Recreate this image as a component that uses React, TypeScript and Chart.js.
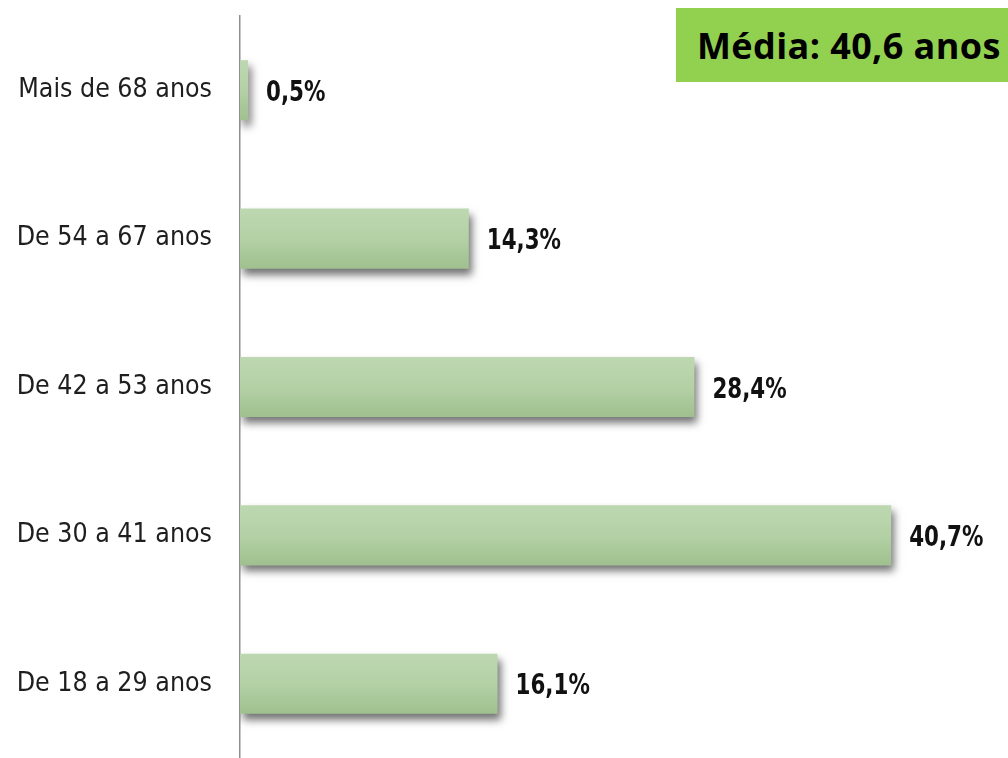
import React, { useEffect, useRef } from "react";
import { Chart, registerables } from "chart.js";

Chart.register(...registerables);

const categories = [
  "Mais de 68 anos",
  "De 54 a 67 anos",
  "De 42 a 53 anos",
  "De 30 a 41 anos",
  "De 18 a 29 anos",
];
const values = [0.5, 14.3, 28.4, 40.7, 16.1];
const valueLabels = ["0,5%", "14,3%", "28,4%", "40,7%", "16,1%"];
const averageLabel = "Média: 40,6 anos";

const FONT = "'Liberation Sans Narrow', 'DejaVu Sans Condensed', Lato, sans-serif";
const BOX_FONT = "'Open Sans', Lato, sans-serif";

export default function App() {
  const ref = useRef<HTMLCanvasElement | null>(null);

  useEffect(() => {
    if (!ref.current) return;

    const shadowPlugin = {
      id: "barShadow",
      beforeDatasetDraw(chart: any) {
        const ctx = chart.ctx;
        ctx.save();
        ctx.shadowColor = "rgba(0,0,0,0.55)";
        ctx.shadowBlur = 8;
        ctx.shadowOffsetX = 3;
        ctx.shadowOffsetY = 6;
      },
      afterDatasetDraw(chart: any) {
        chart.ctx.restore();
      },
    };

    const valueLabelPlugin = {
      id: "valueLabels",
      afterDatasetsDraw(chart: any) {
        const ctx = chart.ctx;
        const meta = chart.getDatasetMeta(0);
        const sx = 0.82;
        meta.data.forEach((el: any, i: number) => {
          ctx.save();
          ctx.font = `bold 29px ${FONT}`;
          ctx.fillStyle = "#111";
          ctx.textAlign = "left";
          ctx.textBaseline = "middle";
          ctx.translate(el.x + 18, el.y + 3);
          ctx.scale(sx, 1);
          ctx.fillText(valueLabels[i], 0, 0);
          ctx.restore();
        });
      },
    };

    const chart = new Chart(ref.current, {
      type: "bar",
      data: {
        labels: categories,
        datasets: [
          {
            data: values,
            backgroundColor: (c: any) => {
              const chartObj = c.chart;
              const yScale = chartObj.scales?.y;
              if (!yScale || c.dataIndex === undefined) return "#b0cea1";
              const center = yScale.getPixelForValue(c.dataIndex);
              if (!Number.isFinite(center)) return "#b0cea1";
              const g = chartObj.ctx.createLinearGradient(0, center - 30, 0, center + 30);
              g.addColorStop(0, "#bdd8b1");
              g.addColorStop(0.5, "#b3d1a5");
              g.addColorStop(1, "#a0c08f");
              return g;
            },
            borderWidth: 0,
            barPercentage: 0.9,
            categoryPercentage: 0.45,
          },
        ],
      },
      options: {
        indexAxis: "y",
        responsive: false,
        animation: false,
        layout: { padding: { top: 16, right: 0, bottom: 0, left: 0 } },
        plugins: {
          legend: { display: false },
          tooltip: { enabled: false },
        },
        scales: {
          x: {
            display: false,
            min: 0,
            max: 48,
          },
          y: {
            grid: { display: false, drawTicks: false },
            border: { display: true, color: "#8e8e8e", width: 1.5 },
            ticks: {
              padding: 28,
              color: "#1e1e1e",
              font: { family: FONT, size: 26.5 },
            },
            afterFit: (s: any) => {
              s.width = 240;
              s.paddingTop = 0;
              s.paddingBottom = 0;
            },
          },
        },
      },
      plugins: [shadowPlugin, valueLabelPlugin],
    });

    return () => chart.destroy();
  }, []);

  return (
    <div
      style={{
        position: "absolute",
        left: 0,
        top: 0,
        width: 1008,
        height: 758,
        background: "#fff",
        overflow: "hidden",
      }}
    >
      <canvas ref={ref} width={1008} height={758} style={{ display: "block" }} />
      <div
        style={{
          position: "absolute",
          left: 676,
          top: 8,
          width: 332,
          height: 74,
          background: "#92d050",
          display: "flex",
          alignItems: "center",
          paddingLeft: 21,
          boxSizing: "border-box",
          fontFamily: BOX_FONT,
          fontWeight: "bold",
          fontSize: 36,
          letterSpacing: 0.4,
          color: "#000",
          whiteSpace: "nowrap",
        }}
      >
        {averageLabel}
      </div>
    </div>
  );
}
